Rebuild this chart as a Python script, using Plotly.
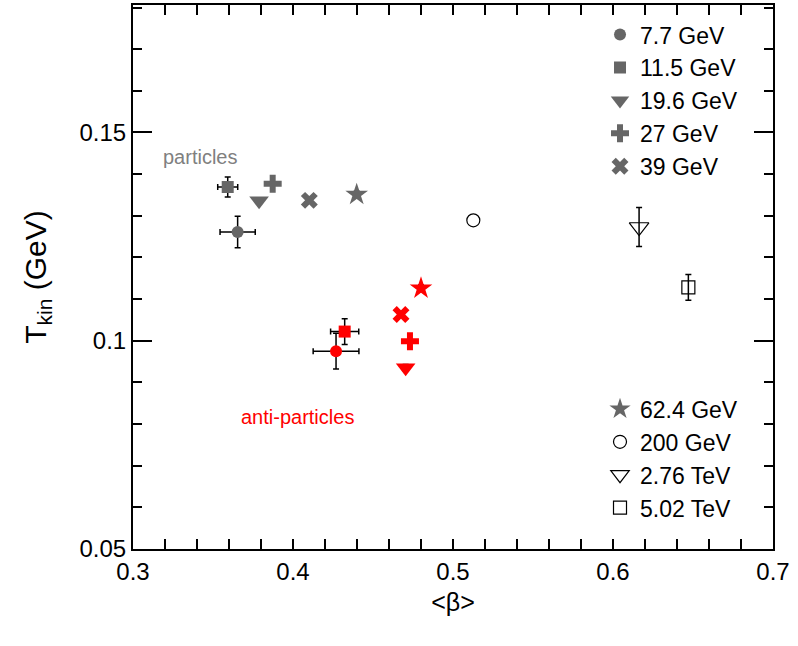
import plotly.graph_objects as go

energies = ["7.7 GeV", "11.5 GeV", "19.6 GeV", "27 GeV", "39 GeV",
            "62.4 GeV", "200 GeV", "2.76 TeV", "5.02 TeV"]

# particles
p_beta = [0.3654, 0.3592, 0.3788, 0.3873, 0.4102, 0.4398, 0.5127, 0.6163, 0.6471]
p_T = [0.1261, 0.1369, 0.1336, 0.1377, 0.1337, 0.1351, 0.1289, 0.1273, 0.1128]
p_beta_err = [0.011, 0.00625, 0, 0, 0, 0, 0, 0, 0]
p_T_err = [0.0038, 0.0024, 0, 0, 0, 0.0008, 0, 0.0047, 0.0031]

# anti-particles (RHIC BES + 62.4 GeV)
a_beta = [0.4269, 0.4323, 0.4704, 0.4731, 0.4675, 0.4800]
a_T = [0.0975, 0.1022, 0.0935, 0.0999, 0.1063, 0.1126]
a_beta_err = [0.0143, 0.0088, 0, 0, 0, 0]
a_T_err = [0.0043, 0.0031, 0.0008, 0, 0, 0.0008]

symbols = ["circle", "square", "triangle-down", "cross", "x",
           "star", "circle-open", "triangle-down-open", "square-open"]
sizes = [12, 12, 17, 15, 15, 17, 13, 17, 13]

GRAY = "#666666"
RED = "#ff0000"

fig = go.Figure()

for i, name in enumerate(energies):
    open_sym = symbols[i].endswith("open")
    fig.add_trace(go.Scatter(
        x=[p_beta[i]], y=[p_T[i]], mode="markers", name=name,
        legend="legend" if i < 5 else "legend2",
        marker=dict(symbol=symbols[i], size=sizes[i],
                    color="black" if open_sym else GRAY,
                    line=dict(width=1.2 if open_sym else 0, color="black")),
        error_x=dict(type="data", array=[p_beta_err[i]], visible=p_beta_err[i] > 0,
                     color="black", thickness=1.5, width=3),
        error_y=dict(type="data", array=[p_T_err[i]], visible=p_T_err[i] > 0,
                     color="black", thickness=1.5, width=3),
    ))

for i in range(len(a_beta)):
    fig.add_trace(go.Scatter(
        x=[a_beta[i]], y=[a_T[i]], mode="markers", name=energies[i],
        showlegend=False,
        marker=dict(symbol=symbols[i], size=sizes[i], color=RED, line=dict(width=0)),
        error_x=dict(type="data", array=[a_beta_err[i]], visible=a_beta_err[i] > 0,
                     color="black", thickness=1.5, width=3),
        error_y=dict(type="data", array=[a_T_err[i]], visible=a_T_err[i] > 0,
                     color="black", thickness=1.5, width=3),
    ))

fig.add_annotation(x=0.3419, y=0.1440, text="particles", showarrow=False,
                   font=dict(size=20, color="#808080", family="Liberation Sans"))
fig.add_annotation(x=0.4030, y=0.0818, text="anti-particles", showarrow=False,
                   font=dict(size=20, color=RED, family="Liberation Sans"))

axis_common = dict(showgrid=False, zeroline=False, showline=True, linecolor="black",
                   linewidth=2, mirror="ticks", ticks="inside", tickcolor="black",
                   tickwidth=1.5, tickfont=dict(size=24, color="black"))

fig.update_xaxes(range=[0.3, 0.7], tickvals=[0.3, 0.4, 0.5, 0.6, 0.7],
                 ticktext=["0.3", "0.4", "0.5", "0.6", "0.7"], ticklen=10,
                 minor=dict(dtick=0.02, ticks="inside", ticklen=10, tickcolor="black", tickwidth=1.5),
                 title=dict(text="&lt;β&gt;", font=dict(size=25, color="black"), standoff=10),
                 **axis_common)
fig.update_yaxes(range=[0.05, 0.1806], tickvals=[0.05, 0.1, 0.15],
                 ticktext=["0.05", "0.1", "0.15"], ticklen=19,
                 minor=dict(dtick=0.01, ticks="inside", ticklen=9, tickcolor="black", tickwidth=1.5),
                 title=dict(text="T<sub>kin</sub> (GeV)", font=dict(size=30, color="black"), standoff=24),
                 **axis_common)

legend_common = dict(bgcolor="rgba(0,0,0,0)", borderwidth=0, font=dict(size=23, color="black"),
                     xanchor="left", yanchor="top", itemsizing="trace", tracegroupgap=0,
                     itemwidth=30)
fig.update_layout(
    width=798, height=646,
    margin=dict(l=133, r=25, t=3, b=97),
    paper_bgcolor="white", plot_bgcolor="white",
    font=dict(family="Liberation Sans", color="black"),
    legend=dict(x=0.7297, y=0.985, **legend_common),
    legend2=dict(x=0.7297, y=0.297, **legend_common),
)

fig.write_html("out.html")
